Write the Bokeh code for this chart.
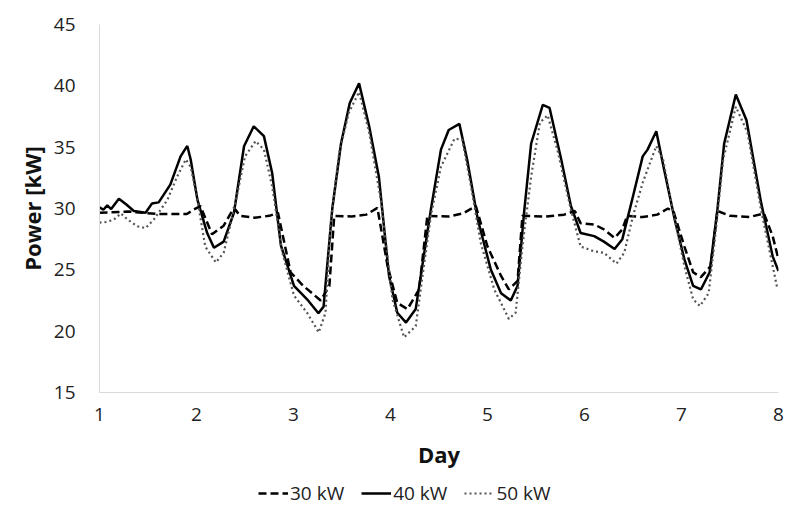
from bokeh.plotting import figure
from bokeh.layouts import column
from bokeh.models import Legend, LegendItem, Range1d, FixedTicker
from bokeh.embed import file_html
from bokeh.resources import INLINE

# ---- data ----
day_40 = [1.0, 1.04, 1.08, 1.12, 1.2, 1.28, 1.354, 1.475, 1.54, 1.61,
          1.73, 1.836, 1.905, 1.94, 2.01, 2.11, 2.18, 2.28, 2.386, 2.49,
          2.59, 2.695, 2.78, 2.87, 3.005, 3.14, 3.257, 3.31, 3.4, 3.49,
          3.58, 3.676, 3.78, 3.88, 3.985, 4.07, 4.16, 4.26, 4.416, 4.52,
          4.6, 4.71, 4.79, 4.9, 5.035, 5.14, 5.24, 5.31, 5.38, 5.45,
          5.57, 5.64, 5.76, 5.86, 5.96, 6.1, 6.2, 6.31, 6.39, 6.5,
          6.6, 6.65, 6.74, 6.82, 6.93, 7.03, 7.12, 7.2, 7.29, 7.37,
          7.44, 7.56, 7.67, 7.82, 7.94, 8.0]
kw_40 = [30.1, 29.9, 30.25, 29.95, 30.8, 30.3, 29.8, 29.65, 30.4, 30.5,
         31.95, 34.25, 35.1, 34.0, 30.7, 28.0, 26.8, 27.3, 29.65, 35.07,
         36.7, 35.9, 32.9, 27.0, 23.7, 22.6, 21.46, 22.0, 30.0, 35.3,
         38.6, 40.2, 36.7, 32.6, 24.5, 21.5, 20.7, 21.8, 29.9, 34.8,
         36.4, 36.9, 34.0, 29.1, 25.0, 23.1, 22.5, 23.7, 29.9, 35.3,
         38.45, 38.2, 34.0, 30.2, 28.0, 27.75, 27.3, 26.7, 27.5, 31.0,
         34.25, 34.8, 36.3, 33.2, 29.1, 25.85, 23.7, 23.4, 24.8, 29.9,
         35.3, 39.3, 37.2, 30.5, 26.1, 24.9]

day_30 = [1.0, 1.3, 1.6, 1.9, 1.97, 2.04, 2.16, 2.28, 2.386, 2.45,
          2.6, 2.75, 2.84, 2.97, 3.1, 3.28, 3.37, 3.42, 3.6, 3.75,
          3.865, 3.97, 4.07, 4.175, 4.295, 4.38, 4.6, 4.75, 4.88, 5.0,
          5.14, 5.22, 5.31, 5.36, 5.6, 5.79, 5.9, 5.96, 6.1, 6.2,
          6.31, 6.39, 6.44, 6.6, 6.75, 6.86, 6.92, 7.03, 7.12, 7.2,
          7.3, 7.37, 7.5, 7.7, 7.85, 7.94, 8.0]
kw_30 = [29.65, 29.75, 29.55, 29.55, 29.9, 30.2, 27.9, 28.6, 30.05, 29.4,
         29.25, 29.4, 29.65, 24.8, 23.7, 22.5, 23.7, 29.4, 29.35, 29.5,
         30.05, 25.3, 22.3, 21.8, 23.4, 29.4, 29.35, 29.6, 30.2, 26.9,
         24.5, 23.4, 24.1, 29.4, 29.35, 29.5, 29.8, 28.8, 28.7, 28.3,
         27.6, 28.3, 29.4, 29.3, 29.5, 30.0, 29.7, 26.9, 24.8, 24.4,
         25.3, 29.8, 29.4, 29.3, 29.6, 27.75, 25.85]

day_50 = [1.0, 1.07, 1.15, 1.22, 1.29, 1.39, 1.475, 1.56, 1.7, 1.8,
          1.89, 1.94, 2.01, 2.09, 2.2, 2.28, 2.386, 2.5, 2.61, 2.695,
          2.78, 2.885, 3.005, 3.14, 3.26, 3.33, 3.38, 3.47, 3.57, 3.676,
          3.78, 3.9, 4.02, 4.14, 4.26, 4.33, 4.416, 4.52, 4.66, 4.74,
          4.83, 4.93, 5.07, 5.22, 5.29, 5.36, 5.45, 5.54, 5.62, 5.72,
          5.86, 5.96, 6.1, 6.2, 6.33, 6.41, 6.5, 6.6, 6.74, 6.81,
          6.91, 7.03, 7.12, 7.19, 7.28, 7.34, 7.43, 7.56, 7.68, 7.82,
          7.99]
kw_50 = [28.85, 28.9, 29.1, 29.6, 29.1, 28.55, 28.4, 29.1, 30.7, 32.6,
         34.0, 33.4, 30.7, 26.9, 25.6, 26.4, 29.9, 34.25, 35.5, 34.8,
         31.8, 26.4, 22.9, 21.5, 19.9, 21.5, 28.6, 34.5, 37.8, 39.5,
         36.2, 30.7, 22.6, 19.5, 20.4, 24.5, 29.4, 33.4, 35.7, 35.6,
         31.8, 27.2, 23.4, 21.0, 21.5, 26.9, 32.6, 37.0, 37.6, 34.8,
         29.9, 26.9, 26.5, 26.4, 25.5, 26.4, 29.4, 32.1, 35.1, 34.0,
         29.9, 25.3, 22.6, 22.05, 23.1, 27.2, 34.0, 38.3, 36.2, 29.9,
         23.4]

x_ticks = [1, 2, 3, 4, 5, 6, 7, 8]
y_ticks = [15, 20, 25, 30, 35, 40, 45]
series_labels = ["30 kW", "40 kW", "50 kW"]

FONT = "Open Sans"
AXIS_GREY = "#d9d9d9"
STYLE_30 = dict(line_color="black", line_width=2.5, line_dash="8 4")
STYLE_40 = dict(line_color="black", line_width=2.5)
STYLE_50 = dict(line_color="#555555", line_width=2.2, line_dash="2 3")

# ---- main chart ----
p = figure(width=785, height=480, output_backend="svg", toolbar_location=None,
           x_range=Range1d(1, 8), y_range=Range1d(15, 45),
           min_border_left=99, min_border_right=7, min_border_top=24,
           min_border_bottom=88)
p.outline_line_color = None
p.grid.visible = False

p.line(day_30, kw_30, **STYLE_30)
p.line(day_40, kw_40, **STYLE_40)
p.line(day_50, kw_50, **STYLE_50)

for ax in (p.xaxis[0], p.yaxis[0]):
    ax.axis_line_color = AXIS_GREY
    ax.axis_line_width = 1
    ax.major_tick_line_color = None
    ax.minor_tick_line_color = None
    ax.major_label_text_font = FONT
    ax.major_label_text_font_size = "19px"
    ax.major_label_text_color = "#222222"
    ax.axis_label_text_font = FONT
    ax.axis_label_text_font_style = "bold"
    ax.axis_label_text_font_size = "22px"
    ax.axis_label_text_color = "#111111"

p.xaxis.ticker = FixedTicker(ticks=x_ticks)
p.yaxis.ticker = FixedTicker(ticks=y_ticks)
p.xaxis.axis_label = "Day"
p.yaxis.axis_label = "Power [kW]"
p.xaxis.major_label_standoff = 9
p.xaxis.axis_label_standoff = 15
p.yaxis.major_label_standoff = 18
p.yaxis.axis_label_standoff = 4

# ---- legend strip (separate canvas so the legend is not clipped) ----
lg = figure(width=785, height=35, output_backend="svg", toolbar_location=None,
            x_range=Range1d(0, 1), y_range=Range1d(0, 1),
            min_border_left=0, min_border_right=0, min_border_top=0,
            min_border_bottom=0)
lg.outline_line_color = None
lg.grid.visible = False
lg.axis.visible = False
# legend-only renderers: their single segment lies outside the visible range
l30 = lg.line([5, 6], [5, 6], **STYLE_30)
l40 = lg.line([5, 6], [5, 6], **STYLE_40)
l50 = lg.line([5, 6], [5, 6], **STYLE_50)

legend = Legend(items=[LegendItem(label=series_labels[0], renderers=[l30]),
                       LegendItem(label=series_labels[1], renderers=[l40]),
                       LegendItem(label=series_labels[2], renderers=[l50])],
                orientation="horizontal", location=(159, 9))
legend.label_text_font = FONT
legend.label_text_font_size = "19px"
legend.label_text_color = "#222222"
legend.glyph_width = 30
legend.label_standoff = 2
legend.spacing = 17
legend.padding = 0
legend.margin = 0
legend.border_line_color = None
legend.background_fill_alpha = 0
lg.add_layout(legend, "center")

layout = column(p, lg, spacing=0)
open("out.html", "w").write(file_html(layout, INLINE))
